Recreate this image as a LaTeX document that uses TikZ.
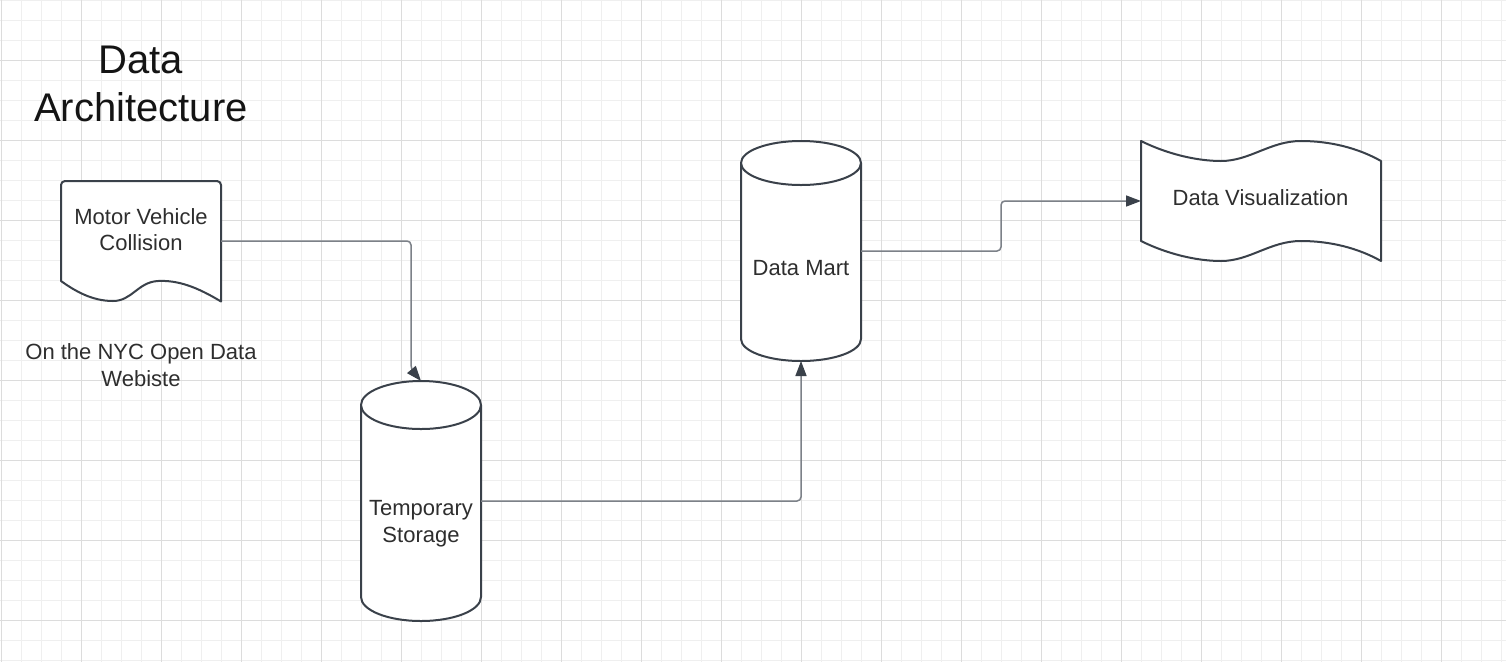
\documentclass[tikz,border=0pt]{standalone}
\usepackage{fontspec}
\setmainfont{Liberation Sans}
\usetikzlibrary{arrows.meta}
\definecolor{gridminor}{HTML}{EFEFEF}
\definecolor{gridmajor}{HTML}{DCDCDC}
\definecolor{shapedark}{HTML}{3A414A}
\definecolor{conngray}{HTML}{7C8188}
\definecolor{textdark}{HTML}{2E2E2E}
\begin{document}
\begin{tikzpicture}[x=1pt,y=-1pt,
  minorgrid/.style={draw=gridminor,line width=1pt},
  majorgrid/.style={draw=gridmajor,line width=1pt},
  shapenode/.style={draw=none,inner sep=0pt,outer sep=0pt},
  outline/.style={draw=shapedark,fill=white,line width=2pt,line join=round},
  conn/.style={draw=conngray,line width=1.5pt,rounded corners=4pt,
    -{Triangle[length=15pt,width=11pt,color=shapedark]}},
  lbl/.style={font=\fontsize{22}{26.5}\selectfont,text=textdark,inner sep=0pt},
  titlefont/.style={font=\fontsize{40}{48}\selectfont,text=black!92,inner sep=0pt}]
\useasboundingbox (0,0) rectangle (1506,662);
\fill[white] (0,0) rectangle (1506,662);
% grid
\foreach \i in {0,...,75} \draw[minorgrid] ({1.5+20*\i},0) -- ({1.5+20*\i},662);
\foreach \j in {0,...,33} \draw[minorgrid] (0,{0.7+20*\j}) -- (1506,{0.7+20*\j});
\foreach \i in {0,...,18} \draw[majorgrid] ({1.5+80*\i},0) -- ({1.5+80*\i},662);
\foreach \j in {0,...,7} \draw[majorgrid] (0,{60.7+80*\j}) -- (1506,{60.7+80*\j});

% shape anchors
\node[shapenode,minimum width=160pt,minimum height=120pt] (mvc) at (141,241) {};
\node[shapenode,minimum width=120pt,minimum height=240pt] (ts) at (421,501) {};
\node[shapenode,minimum width=120pt,minimum height=220pt] (dm) at (801,251) {};
\node[shapenode,minimum width=240pt,minimum height=120pt] (dv) at (1261,201) {};

% document shape
\draw[outline] (61,281) -- (61,185) arc[start angle=180,end angle=90,radius=4pt]
  -- (217,181) arc[start angle=90,end angle=0,radius=4pt]
  -- (221,301.5) .. controls (197,287) and (178,280) .. (158,281)
  .. controls (138,282) and (132,301) .. (113,301)
  .. controls (92,301) and (75,291) .. (61,281) -- cycle;

% cylinder: temporary storage
\draw[outline] (361,405) -- (361,597) arc[start angle=180,end angle=360,x radius=60pt,y radius=24pt] -- (481,405) -- cycle;
\draw[outline] (421,405) ellipse [x radius=60pt,y radius=24pt];

% cylinder: data mart
\draw[outline] (741,163) -- (741,339) arc[start angle=180,end angle=360,x radius=60pt,y radius=22pt] -- (861,163) -- cycle;
\draw[outline] (801,163) ellipse [x radius=60pt,y radius=22pt];

% tape shape
\draw[outline] (1141,141) .. controls (1165,153) and (1195,161) .. (1221,161)
  .. controls (1250,161) and (1270,141) .. (1301,141)
  .. controls (1330,141) and (1358,148) .. (1381,161)
  -- (1381,261) .. controls (1358,248) and (1330,241) .. (1301,241)
  .. controls (1270,241) and (1250,261) .. (1221,261)
  .. controls (1195,261) and (1165,253) .. (1141,241) -- cycle;

% labels
\node[titlefont,align=center] (title) at (141,84.4) {Data\\Architecture};
\node[lbl,align=center] (lmvc) at (141,229.7) {Motor Vehicle\\Collision};
\node[lbl,align=center] (lnyc) at (141,365) {On the NYC Open Data\\Webiste};
\node[lbl,align=center] (lts) at (421,523.8) {Temporary\\Storage};
\node[lbl,anchor=base] (ldm) at (801,275.3) {Data Mart};
\node[lbl,anchor=base] (ldv) at (1260.5,205) {Data Visualization};

% connectors
\draw[conn] (mvc.east) -| ([xshift=-10pt,yshift=12pt]ts.north) -- (ts.north);
\draw[conn] (ts.east) -| (dm.south);
\draw[conn] (dm.east) -- ([xshift=140pt]dm.east) |- (dv.west);
\end{tikzpicture}
\end{document}
